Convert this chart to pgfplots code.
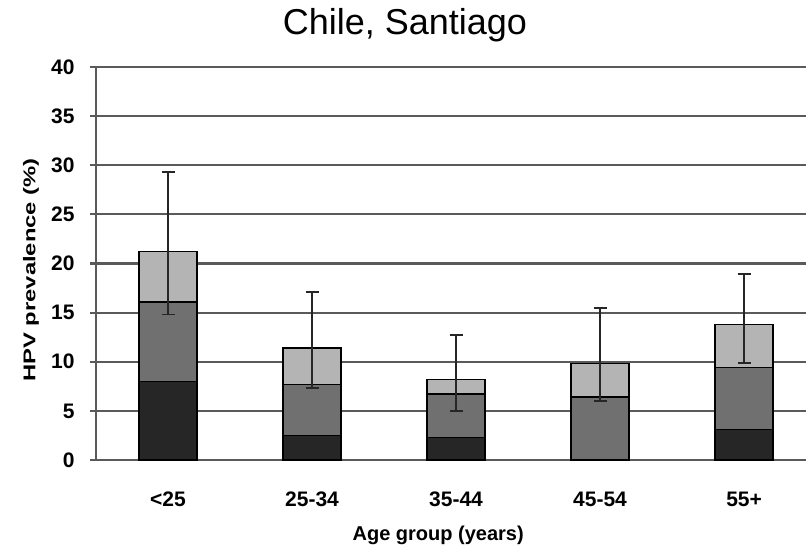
\documentclass[border=0pt]{standalone}
\usepackage{pgfplots}
\pgfplotsset{compat=1.18}
\usepackage{fontspec}
\setmainfont{Liberation Sans}

\definecolor{gridgray}{RGB}{90,90,90}
\definecolor{segA}{RGB}{38,38,38}
\definecolor{segB}{RGB}{112,112,112}
\definecolor{segC}{RGB}{180,180,180}

% shared geometry of the plot area
\pgfplotsset{
  hpvframe/.style={
    at={(0,0)}, anchor=south west,
    scale only axis, width=710pt, height=393pt,
    xmin=-0.5, xmax=4.43, ymin=0, ymax=40,
  },
}

\begin{document}
\begin{tikzpicture}
\useasboundingbox (-96pt,-87pt) rectangle (710pt,460pt);

\begin{axis}[
  hpvframe,
  ybar stacked,
  bar width=58pt,
  axis x line*=bottom, axis y line*=left,
  axis line style={draw=gridgray, line width=2.2pt, -},
  ytick={0,5,...,40},
  ymajorgrids,
  grid style={draw=gridgray, line width=2.2pt},
  xtick={0,1,2,3,4},
  xticklabels={<25,25-34,35-44,45-54,55+},
  x tick style={draw=none},
  y tick style={draw=gridgray, line width=2.2pt},
  tick align=outside, major tick length=6pt,
  /pgf/number format/assume math mode=true,
  yticklabel style={font=\fontsize{21}{21}\selectfont\bfseries, anchor=east, xshift=-12pt},
  xticklabel style={font=\fontsize{21}{21}\selectfont\bfseries, anchor=base, yshift=-40pt},
  title={Chile, Santiago},
  title style={font=\fontsize{36}{36}\selectfont, at={(axis description cs:0.435,1.0687)}, anchor=base},
  xlabel={Age group (years)},
  xlabel style={font=\fontsize{20}{20}\selectfont\bfseries, at={(axis description cs:0.482,-0.2036)}, anchor=base},
  ylabel={\scalebox{1.4}[1]{HPV prevalence (\%)}},
  ylabel style={font=\fontsize{17}{17}\selectfont\bfseries, at={(axis description cs:-0.0915,0.4835)}, anchor=center, rotate=0},
  every axis plot/.append style={draw=black, line width=1.4pt},
]
% lowest segment
\addplot[fill=segA] coordinates {(0,8.0) (1,2.5) (2,2.3) (3,0) (4,3.1)};
% middle segment
\addplot[fill=segB] coordinates {(0,8.1) (1,5.2) (2,4.4) (3,6.4) (4,6.3)};
% top segment
\addplot[fill=segC] coordinates {(0,5.1) (1,3.7) (2,1.5) (3,3.4) (4,4.4)};
\end{axis}

% confidence intervals drawn over the stacked totals
\begin{axis}[
  hpvframe,
  hide axis,
]
\addplot[draw=none, mark=none,
  error bars/.cd, y dir=both, y explicit,
  error bar style={line width=1.8pt, color=black!85},
  error mark options={rotate=90, mark size=6.5pt, line width=1.8pt, color=black!85},
] coordinates {
  (0,21.2) += (0,8.1) -= (0,6.4)
  (1,11.4) += (0,5.7) -= (0,4.1)
  (2,8.2)  += (0,4.5) -= (0,3.2)
  (3,9.8)  += (0,5.7) -= (0,3.8)
  (4,13.8) += (0,5.1) -= (0,3.9)
};
\end{axis}
\end{tikzpicture}
\end{document}
